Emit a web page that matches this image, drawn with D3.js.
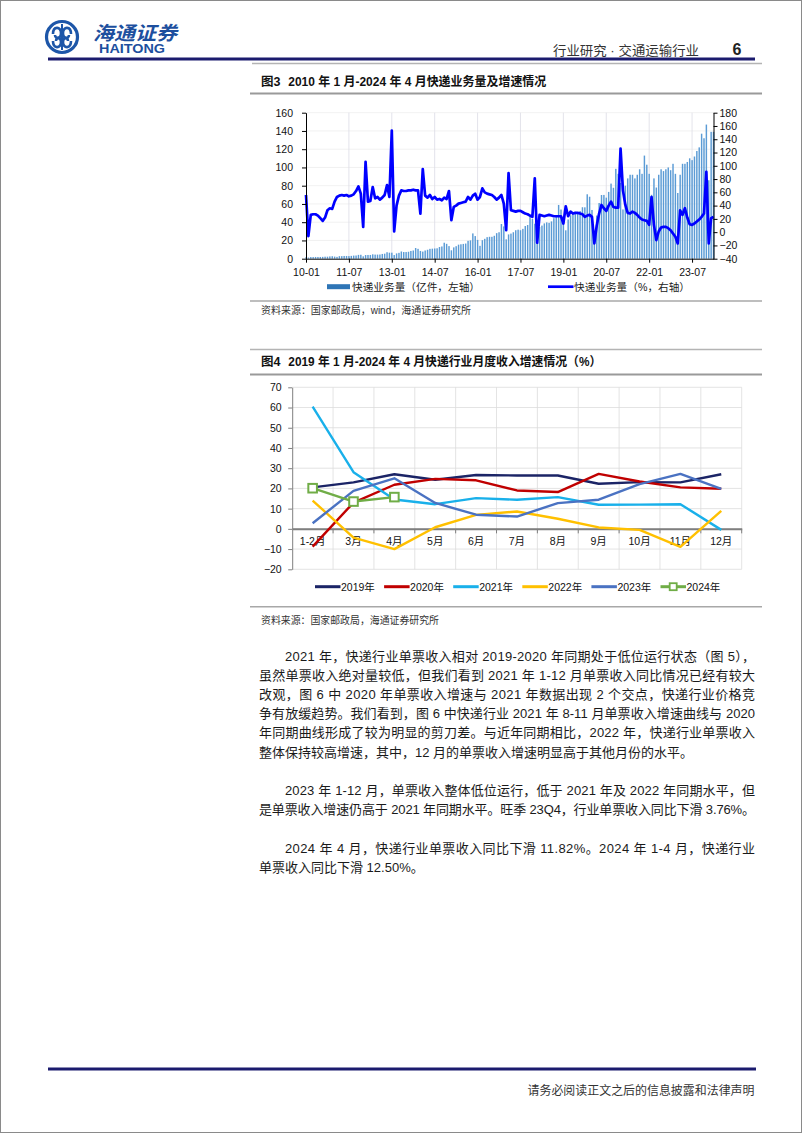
<!DOCTYPE html>
<html><head><meta charset="utf-8">
<script src="https://cdn.jsdelivr.net/npm/d3@7"></script>
<style>
html,body{margin:0;padding:0;background:#fff;}
svg{display:block;}
text{font-family:"Liberation Sans","Noto Sans CJK SC",sans-serif;}
</style></head><body>
<svg id="page" width="802" height="1133"></svg>
<script>
// ---------- Figure 3 data (monthly, 2010-01 .. 2024-04) ----------
const fig3TickIdx = [0, 18, 36, 54, 72, 90, 108, 126, 144, 162];
const fig3TickLabels = ["10-01","11-07","13-01","14-07","16-01","17-07","19-01","20-07","22-01","23-07"];
// 快递业务量（亿件）
const volume = [
 1.6,1.3,1.8,1.8,1.9,1.9,1.9,2.0,2.2,2.2,2.5,2.7,
 2.3,2.0,2.8,2.8,3.0,3.0,2.9,3.1,3.4,3.5,4.2,4.3,
 2.6,4.0,4.1,4.1,4.8,4.5,4.5,4.6,5.2,5.5,7.1,6.6,
 6.6,4.0,5.8,6.4,7.9,7.3,7.3,7.6,8.5,9.0,11.7,10.8,
 8.5,7.8,9.0,9.8,10.8,11.0,11.2,11.4,12.8,13.4,17.5,16.3,
 13.8,9.2,12.4,13.7,15.4,15.8,16.2,16.6,19.6,20.1,27.7,24.8,
 20.6,14.1,20.3,21.8,23.6,24.0,24.0,25.1,28.0,29.0,38.0,35.4,
 21.2,26.6,27.5,29.0,31.2,31.8,31.2,32.7,35.8,36.9,47.5,43.5,
 38.4,22.4,34.7,36.3,38.7,39.8,39.3,40.9,44.4,45.8,58.9,53.9,
 43.4,31.1,43.0,47.6,49.5,51.4,50.7,52.3,56.4,56.3,70.6,67.9,
 53.4,25.8,47.3,61.0,69.8,69.9,66.9,73.2,82.3,77.7,98.5,93.0,
 83.0,54.0,80.0,88.0,92.0,92.0,88.0,92.0,98.0,93.0,113.0,103.0,
 93.0,70.0,88.0,78.0,92.0,98.0,96.0,98.0,100.0,97.0,104.0,93.0,
 72.0,92.0,104.0,104.0,106.0,110.0,108.0,112.0,118.0,122.0,137.0,132.0,
 147.0,86.0,139.0,139.0
];
// 快递业务量增速（%）
const growth = [
 56,-6,26,27,27,25,21,17,22,33,36,35,
 46,53,55,56,55,56,54,55,57,62,69,58,
 8,106,46,47,68,51,53,49,52,56,71,53,
 153,1,40,55,63,62,62,63,63,64,63,63,
 28,95,55,52,56,50,53,49,50,48,52,50,
 62,18,38,40,43,44,45,46,53,49,55,58,
 49,53,66,60,58,57,56,53,49,52,56,43,
 3,89,33,32,31,32,32,30,28,27,25,23,
 81,-16,26,25,24,25,26,25,24,24,24,24,
 13,39,24,31,28,29,29,28,27,23,25,26,
 23,-17,10,28,41,36,32,40,46,38,37,37,
 126,63,41,29,28,31,29,26,22,19,18,17,
 11,53,11,-12,1,7,8,8,6,3,-2,-7,
 -17,33,26,36,22,12,11,13,16,19,23,28,
 91,-17,21,23
];
const leftTicks = [0,20,40,60,80,100,120,140,160];
const rightTicks = [-40,-20,0,20,40,60,80,100,120,140,160,180];

// ---------- Figure 4 data ----------
const cat4 = ["1-2月","3月","4月","5月","6月","7月","8月","9月","10月","11月","12月"];
const s2019 = [20.5,23,27,24.3,26.6,26.4,26.4,22.3,23.1,23,27];
const s2020 = [-8.8,13,21.8,24.7,24,19,18.2,27.2,23.4,20.5,19.8];
const s2021 = [60.4,28,14.5,12.2,15.2,14.4,15.7,11.9,12,12.2,-0.5];
const s2022 = [14,-4.3,-10,0.8,6.9,8.6,5,0.7,-0.5,-8.9,8.9];
const s2023 = [2.8,18.8,25,12.8,7,6.1,12.7,14.4,22.1,27.2,19.8];
const s2024 = [20.1,13.5,15.7];
const ticks4 = [-20,-10,0,10,20,30,40,50,60,70];
const seriesNames = ["2019年","2020年","2021年","2022年","2023年","2024年"];
const seriesColors = ["#1b2466","#c00000","#19b0ea","#ffc000","#4a72c2","#70ad47"];

// ---------- text ----------
const para1 = [
 "2021 年，快递行业单票收入相对 2019-2020 年同期处于低位运行状态（图 5），",
 "虽然单票收入绝对量较低，但我们看到 2021 年 1-12 月单票收入同比情况已经有较大",
 "改观，图 6 中 2020 年单票收入增速与 2021 年数据出现 2 个交点，快递行业价格竞",
 "争有放缓趋势。我们看到，图 6 中快递行业 2021 年 8-11 月单票收入增速曲线与 2020",
 "年同期曲线形成了较为明显的剪刀差。与近年同期相比，2022 年，快递行业单票收入",
 "整体保持较高增速，其中，12 月的单票收入增速明显高于其他月份的水平。"
];
const para2 = [
 "2023 年 1-12 月，单票收入整体低位运行，低于 2021 年及 2022 年同期水平，但",
 "是单票收入增速仍高于 2021 年同期水平。旺季 23Q4，行业单票收入同比下滑 3.76%。"
];
const para3 = [
 "2024 年 4 月，快递行业单票收入同比下滑 11.82%。2024 年 1-4 月，快递行业",
 "单票收入同比下滑 12.50%。"
];

const svg = d3.select("#page");
const navy = "#1b1b6e";

// page frame
svg.append("rect").attr("x",0.5).attr("y",0.5).attr("width",801).attr("height",1132)
  .attr("fill","#fff").attr("stroke","#8a8a8a").attr("stroke-width",1);

// ---------- header ----------
const logo = svg.append("g").attr("transform","translate(62,37)");
logo.append("circle").attr("r",15.5).attr("fill","none").attr("stroke","#1d56a8").attr("stroke-width",3.2);
logo.append("path").attr("d","M-9,-3 C-9,-11 -1,-11 -1,-4 C-1,2 -7,2 -7,-2").attr("fill","none").attr("stroke","#1d56a8").attr("stroke-width",2.6);
logo.append("path").attr("d","M9,-3 C9,-11 1,-11 1,-4 C1,2 7,2 7,-2").attr("fill","none").attr("stroke","#1d56a8").attr("stroke-width",2.6);
logo.append("path").attr("d","M-9,4 C-9,12 -1,12 -1,5 C-1,0 -6,0 -6,4").attr("fill","none").attr("stroke","#1d56a8").attr("stroke-width",2.6);
logo.append("path").attr("d","M9,4 C9,12 1,12 1,5 C1,0 6,0 6,4").attr("fill","none").attr("stroke","#1d56a8").attr("stroke-width",2.6);
logo.append("line").attr("x1",0).attr("x2",0).attr("y1",-13).attr("y2",13).attr("stroke","#1d56a8").attr("stroke-width",2);

svg.append("text").attr("x",93).attr("y",33).attr("dominant-baseline","central")
  .attr("font-size",19).attr("font-weight",700).attr("font-style","italic").attr("fill","#1d4f9e")
  .attr("textLength",84).attr("lengthAdjust","spacingAndGlyphs").text("海通证券");
svg.append("text").attr("x",99).attr("y",49).attr("dominant-baseline","central")
  .attr("font-size",12.5).attr("font-weight",700).attr("fill","#1d4f9e")
  .attr("textLength",66).attr("lengthAdjust","spacingAndGlyphs").text("HAITONG");
svg.append("text").attr("x",553).attr("y",50).attr("dominant-baseline","central")
  .attr("font-size",13).attr("fill","#333").attr("textLength",146).attr("lengthAdjust","spacingAndGlyphs")
  .text("行业研究 · 交通运输行业");
svg.append("text").attr("x",737).attr("y",49).attr("dominant-baseline","central").attr("text-anchor","middle")
  .attr("font-size",16).attr("font-weight",700).attr("fill","#222").text("6");
svg.append("line").attr("x1",48).attr("x2",755).attr("y1",59).attr("y2",59).attr("stroke",navy).attr("stroke-width",3);

// ---------- helpers ----------
function hline(y, x1, x2, color, w){
  svg.append("line").attr("x1",x1).attr("x2",x2).attr("y1",y).attr("y2",y).attr("stroke",color).attr("stroke-width",w);
}
function label(x,y,str,size,opts={}){
  const t = svg.append("text").attr("x",x).attr("y",y).attr("dominant-baseline","central")
    .attr("font-size",size).attr("fill",opts.fill||"#222").text(str);
  if(opts.weight) t.attr("font-weight",opts.weight);
  if(opts.anchor) t.attr("text-anchor",opts.anchor);
  if(opts.len) t.attr("textLength",opts.len).attr("lengthAdjust","spacingAndGlyphs");
  return t;
}

// ---------- Figure 3 ----------
hline(63.5, 252, 762, "#b4b4b4", 1.6);
label(261, 82, "图3", 12.5, {weight:700, fill:"#111"});
label(288.3, 82, "2010 年 1 月-2024 年 4 月快递业务量及增速情况", 12.5, {weight:700, len:258, fill:"#111"});
hline(93.5, 250, 762, "#9a9a9a", 2);

const x3 = d3.scaleLinear().domain([0, volume.length-1]).range([306, 713.5]);
const yL = d3.scaleLinear().domain([0,160]).range([258.7,112.7]);
const yR = d3.scaleLinear().domain([-40,180]).range([258.7,112.7]);
const g3 = svg.append("g");
g3.selectAll(".hg").data(leftTicks.slice(1)).join("line")
  .attr("x1",306).attr("x2",713.5).attr("y1",d=>yL(d)).attr("y2",d=>yL(d))
  .attr("stroke","#ededed").attr("stroke-width",0.8);
g3.selectAll(".vg").data(fig3TickIdx.slice(1)).join("line")
  .attr("x1",d=>x3(d)).attr("x2",d=>x3(d)).attr("y1",112.7).attr("y2",258.7)
  .attr("stroke","#dcdce6").attr("stroke-width",0.8);
g3.selectAll(".bar").data(volume).join("rect")
  .attr("x",(d,i)=>x3(i)-0.7).attr("width",1.45)
  .attr("y",d=>yL(d)).attr("height",d=>yL(0)-yL(d))
  .attr("fill","#5b9bd5");
g3.append("path").datum(growth)
  .attr("d", d3.line().x((d,i)=>x3(i)).y(d=>yR(d)))
  .attr("fill","none").attr("stroke","#0000ff").attr("stroke-width",2.7).attr("stroke-linejoin","round");
function styleAxis(sel, size){
  sel.selectAll("text").attr("font-size",size).attr("fill","#111")
     .attr("font-family","'Liberation Sans','Noto Sans CJK SC',sans-serif");
  sel.selectAll("line").attr("stroke","#000");
  sel.select(".domain").attr("stroke","#000");
}
const axL = svg.append("g").attr("transform","translate(306,0)")
  .call(d3.axisLeft(yL).tickValues(leftTicks).tickSize(4).tickPadding(9).tickSizeOuter(0));
styleAxis(axL, 10.5);
const axR = svg.append("g").attr("transform","translate(713.5,0)")
  .call(d3.axisRight(yR).tickValues(rightTicks).tickSize(4).tickPadding(2).tickSizeOuter(0));
styleAxis(axR, 10.5);
const axB = svg.append("g").attr("transform","translate(0,258.7)")
  .call(d3.axisBottom(x3).tickValues(fig3TickIdx).tickFormat((d,i)=>fig3TickLabels[i]).tickSize(4).tickPadding(5.5).tickSizeOuter(0));
styleAxis(axB, 10.5);
svg.append("rect").attr("x",327).attr("y",284.2).attr("width",23).attr("height",5).attr("fill","#2e75b6");
label(352, 287, "快递业务量（亿件，左轴）", 10.5, {len:128, fill:"#222"});
svg.append("line").attr("x1",548).attr("x2",573.5).attr("y1",286.7).attr("y2",286.7).attr("stroke","#0000ff").attr("stroke-width",2.7);
label(574, 287, "快递业务量（%，右轴）", 10.5, {len:116, fill:"#222"});
hline(301, 250, 762, "#a8a8a8", 1.6);
label(261, 310, "资料来源：国家邮政局，wind，海通证券研究所", 10, {len:210, fill:"#333"});

// ---------- Figure 4 ----------
hline(349.5, 250, 762, "#b4b4b4", 1.6);
label(261, 362, "图4", 12.5, {weight:700, fill:"#111"});
label(288.3, 362, "2019 年 1 月-2024 年 4 月快递行业月度收入增速情况（%）", 12.5, {weight:700, len:313, fill:"#111"});
hline(374.5, 250, 762, "#9a9a9a", 2);

const x4 = d3.scaleBand().domain(cat4).range([292.2, 741.7]);
const y4 = d3.scaleLinear().domain([-20,70]).range([569.3,387.3]);
const g4 = svg.append("g");
g4.selectAll(".hg").data(ticks4).join("line")
  .attr("x1",292.2).attr("x2",741.7).attr("y1",d=>y4(d)).attr("y2",d=>y4(d))
  .attr("stroke","#dcdcdc").attr("stroke-width",0.8);
const bounds = cat4.map(c=>x4(c)).slice(1).concat([x4.range()[1]]);
g4.selectAll(".vg").data(bounds).join("line")
  .attr("x1",d=>d).attr("x2",d=>d).attr("y1",387.3).attr("y2",569.3)
  .attr("stroke","#dcdcdc").attr("stroke-width",0.8);
const ax4 = svg.append("g").attr("transform","translate(292.2,0)")
  .call(d3.axisLeft(y4).tickValues(ticks4).tickSize(4).tickPadding(6.5).tickSizeOuter(0));
ax4.selectAll("text").attr("font-size",10.5).attr("fill","#111").attr("font-family","'Liberation Sans',sans-serif");
ax4.selectAll("line").attr("stroke","#7f7f7f");
ax4.select(".domain").attr("stroke","#7f7f7f");
const ax0 = svg.append("g").attr("transform",`translate(0,${y4(0)})`)
  .call(d3.axisBottom(x4).tickSize(0).tickPadding(12).tickSizeOuter(0));
ax0.select(".domain").attr("stroke","#7f7f7f").attr("stroke-width",2);
ax0.selectAll("text").attr("font-size",10.5).attr("fill","#111").attr("dy","0.35em")
  .attr("font-family","'Liberation Sans','Noto Sans CJK SC',sans-serif");
svg.append("g").selectAll("line").data(bounds).join("line")
  .attr("x1",d=>d).attr("x2",d=>d).attr("y1",y4(0)).attr("y2",y4(0)+4.5)
  .attr("stroke","#7f7f7f").attr("stroke-width",1);
const allSeries = [s2019,s2020,s2021,s2022,s2023,s2024];
const line4 = d3.line().x((d,i)=>x4(cat4[i])+x4.bandwidth()/2).y(d=>y4(d));
allSeries.forEach((s,k)=>{
  svg.append("path").datum(s).attr("d",line4).attr("fill","none")
    .attr("stroke",seriesColors[k]).attr("stroke-width",2.4).attr("stroke-linejoin","round");
});
svg.append("g").selectAll("rect").data(s2024).join("rect")
  .attr("x",(d,i)=>x4(cat4[i])+x4.bandwidth()/2-4.3).attr("y",d=>y4(d)-4.3)
  .attr("width",8.6).attr("height",8.6).attr("fill","#fff").attr("stroke","#70ad47").attr("stroke-width",2);
seriesNames.forEach((n,k)=>{
  const lx = 315 + k*69.1;
  svg.append("line").attr("x1",lx).attr("x2",lx+25.5).attr("y1",586.7).attr("y2",586.7)
    .attr("stroke",seriesColors[k]).attr("stroke-width",3);
  if(k===5){
    svg.append("rect").attr("x",lx+12.7-3.5).attr("y",586.7-3.5).attr("width",7).attr("height",7)
      .attr("fill","#fff").attr("stroke","#70ad47").attr("stroke-width",1.8);
  }
  label(lx+26, 587, n, 10.5, {fill:"#111"});
});
hline(606.7, 250, 762, "#a8a8a8", 1.6);
label(261, 620, "资料来源：国家邮政局，海通证券研究所", 10, {len:178, fill:"#333"});

// ---------- body text ----------
const lh = 19.2;
function para(lines, y0, lastJustify){
  lines.forEach((s,i)=>{
    const x = i===0 ? 285 : 259;
    const t = svg.append("text").attr("x",x).attr("y",y0+i*lh).attr("dominant-baseline","central")
      .attr("font-size",13).attr("fill","#1a1a1a").text(s);
    if(i < lines.length-1 || lastJustify) t.attr("textLength",755-x).attr("lengthAdjust","spacing");
  });
}
para(para1, 656, false);
para(para2, 656+7*lh, true);
para(para3, 656+10*lh, false);

// ---------- footer ----------
svg.append("line").attr("x1",48).attr("x2",756).attr("y1",1069).attr("y2",1069).attr("stroke",navy).attr("stroke-width",3);
label(754.5, 1091, "请务必阅读正文之后的信息披露和法律声明", 12, {anchor:"end", fill:"#333", len:227});
</script>
</body></html>
